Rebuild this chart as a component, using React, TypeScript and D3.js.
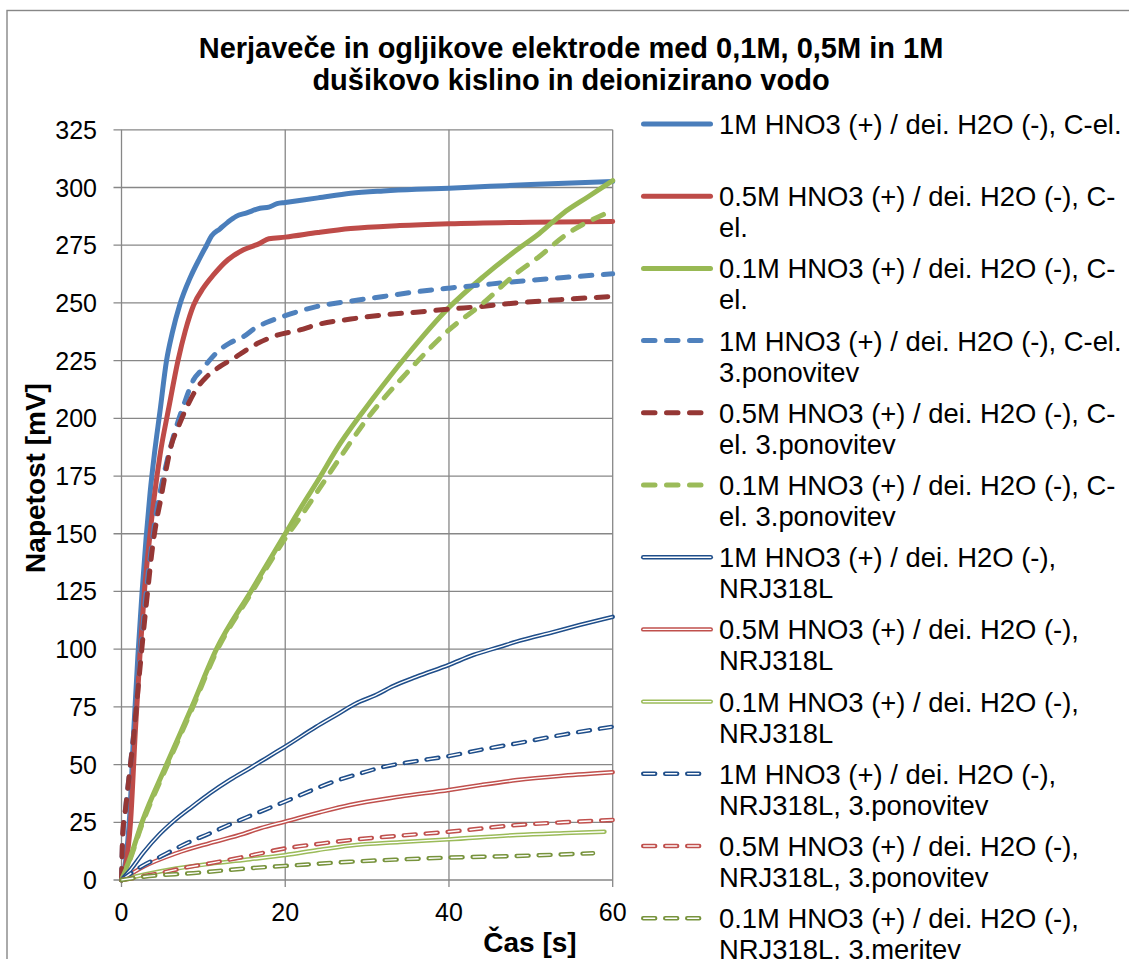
import React from "react";
import * as d3 from "d3";

const TITLE_LINES = [
  "Nerjaveče in ogljikove elektrode med 0,1M, 0,5M in 1M",
  "dušikovo kislino in deionizirano vodo",
];
const X_TITLE = "Čas [s]";
const Y_TITLE = "Napetost [mV]";
const X_TICKS = [0, 20, 40, 60];
const Y_TICKS = [0, 25, 50, 75, 100, 125, 150, 175, 200, 225, 250, 275, 300, 325];

// 1M HNO3, C-el.
const tCel1M = [0, 0.5, 1, 1.5, 2, 2.5, 3, 3.5, 4, 4.7, 5.5, 6.2, 7.1, 8.4, 9.5, 10.4, 11, 12, 13, 14, 15.3, 16.9, 18, 19, 20, 24, 28, 32, 36, 40, 45, 50, 55, 60];
const vCel1M = [0, 8, 28, 65, 97, 124, 148, 168, 184, 203, 225, 237, 249, 261, 269, 275, 279, 282, 285, 287.5, 289, 291, 291.5, 293, 293.5, 295.5, 297.5, 298.5, 299.2, 299.7, 300.5, 301.3, 302, 302.6];
// 0.5M HNO3, C-el.
const tCel05M = [0, 0.5, 1.1, 1.7, 2.3, 2.8, 3.4, 4, 4.7, 5.8, 6.9, 7.8, 8.8, 10, 11.2, 13, 14.9, 16.9, 18, 20, 24, 28, 34, 40, 50, 60];
const vCel05M = [0, 6, 25, 65, 100, 125, 147, 166, 184, 205, 225, 238, 249, 256.5, 262, 268.7, 273, 275.8, 277.8, 278.5, 280.5, 282.2, 283.5, 284.3, 285, 285.3];
// 0.1M HNO3, C-el.
const tCel01M = [0, 1, 2.5, 5.5, 8.6, 11.6, 15.8, 20, 22.2, 23.8, 26.7, 30.8, 34.8, 40, 44.2, 48.3, 51, 54, 57, 60];
const vCel01M = [0, 9, 25, 50, 75, 100, 125, 150, 163, 172, 189, 209, 227, 248, 261.4, 273, 280, 289, 296, 303];
// 1M HNO3, C-el. 3.ponovitev
const tCel1MR = [0, 0.15, 0.5, 1, 1.45, 2, 2.6, 3.2, 3.7, 4.2, 4.6, 5.2, 5.9, 6.9, 7.75, 8.8, 9.8, 10.8, 12, 13.2, 14.9, 16.5, 17.7, 20, 23.8, 28, 32, 36, 40, 44, 48.3, 54, 60];
const vCel1MR = [0, 18, 31, 47, 62, 85, 109, 131, 145, 158, 166, 176, 186.3, 198.6, 207.3, 216.7, 221, 225.3, 229.7, 232.6, 235.4, 239.5, 241.5, 244.5, 248.4, 250.8, 252.8, 254.8, 256.4, 257.8, 259.3, 261, 262.6];
// 0.5M HNO3, C-el. 3.ponovitev
const tCel05MR = [0, 0.15, 0.5, 1, 1.45, 2.05, 2.67, 3.3, 3.7, 4.3, 4.8, 5.3, 6.1, 6.9, 8, 9.2, 10.4, 12, 13.7, 15.3, 16.7, 19, 21.8, 23.8, 28, 32, 36, 40, 44, 48.3, 54, 60];
const vCel05MR = [0, 20, 31, 47, 61, 84, 107, 128.6, 141.6, 156, 165, 175, 188.5, 196, 205, 213, 218, 222.4, 226, 229.7, 232.6, 236, 238.3, 240.5, 243, 244.8, 246, 247.3, 248.5, 250, 251.5, 252.8];
// 0.1M HNO3, C-el. 3.ponovitev
const tCel01MR = [0, 1, 2.5, 5.5, 8.6, 11.6, 15.8, 20, 22, 23.8, 26.7, 29.9, 34.8, 40, 44.2, 48.3, 51, 54, 59.3];
const vCel01MR = [0, 8.5, 24, 49, 74, 99, 124, 148, 158, 167.6, 183, 199.3, 219.5, 238.3, 250, 263, 270, 278.8, 289];
// 1M HNO3, NRJ318L
const tNrj1M = [0, 1, 2.7, 4.7, 6.7, 8.7, 10.8, 13.3, 15.7, 18, 20, 23.8, 26, 28.7, 31, 33.2, 36, 40, 43, 46.2, 49, 52.3, 56, 60];
const vNrj1M = [0, 4, 12, 20, 26.5, 32, 37.6, 43.5, 48.5, 53.5, 57.8, 66.4, 71, 76.6, 80, 84, 88, 93.2, 97.5, 101, 104, 107, 110.5, 114];
// 0.5M HNO3, NRJ318L
const tNrj05M = [0, 2.7, 6.7, 10.8, 14.9, 17, 20, 24.2, 27.9, 34, 40, 44, 48.3, 54, 60];
const vNrj05M = [0, 5.8, 11.6, 16, 20, 22.5, 25.3, 29.3, 32.5, 36.1, 39, 41.2, 43.3, 45.2, 46.7];
// 0.1M HNO3, NRJ318L
const tNrj01M = [0, 3, 6.7, 10.8, 15.7, 20, 24, 27.9, 34, 40, 48.3, 54, 59];
const vNrj01M = [0, 2.5, 5, 7, 9, 10.8, 13, 14.9, 16.4, 17.6, 19.5, 20.3, 20.9];
// 1M HNO3, NRJ318L, 3.ponovitev
const tNrj1MR = [0, 2.5, 4.7, 8, 10.8, 13.5, 16, 20, 23, 25.9, 29, 32, 36, 40, 44, 48.3, 54, 60];
const vNrj1MR = [0, 6, 10, 16, 20.2, 24.5, 28.2, 34, 38.5, 42.6, 46, 49, 51.5, 53.7, 56.5, 59.2, 63, 66.4];
// 0.5M HNO3, NRJ318L, 3.ponovitev
const tNrj05MR = [0, 4.7, 8, 10.8, 16, 20, 24, 27.9, 34, 40, 48.3, 54, 60];
const vNrj05MR = [0, 3, 5.5, 7.2, 10.8, 13.7, 15.6, 17.3, 19.2, 20.9, 23.8, 25, 26];
// 0.1M HNO3, NRJ318L, 3.meritev
const tNrj01MR = [0, 2.7, 8.8, 16, 20, 27.9, 34, 40, 48.3, 57.6];
const vNrj01MR = [0, 1.4, 3, 5.2, 6.1, 7.9, 8.9, 9.7, 10.4, 11.6];

const LEGEND_LABELS = [
  ["1M HNO3 (+) / dei. H2O (-), C-el."],
  ["0.5M HNO3 (+) / dei. H2O (-), C-", "el."],
  ["0.1M HNO3 (+) / dei. H2O (-), C-", "el."],
  ["1M HNO3 (+) / dei. H2O (-), C-el.", "3.ponovitev"],
  ["0.5M HNO3 (+) / dei. H2O (-), C-", "el. 3.ponovitev"],
  ["0.1M HNO3 (+) / dei. H2O (-), C-", "el. 3.ponovitev"],
  ["1M HNO3 (+) / dei. H2O (-),", "NRJ318L"],
  ["0.5M HNO3 (+) / dei. H2O (-),", "NRJ318L"],
  ["0.1M HNO3 (+) / dei. H2O (-),", "NRJ318L"],
  ["1M HNO3 (+) / dei. H2O (-),", "NRJ318L, 3.ponovitev"],
  ["0.5M HNO3 (+) / dei. H2O (-),", "NRJ318L, 3.ponovitev"],
  ["0.1M HNO3 (+) / dei. H2O (-),", "NRJ318L, 3.meritev"],
];

type Kind = "solid" | "dashed" | "double" | "doubleDashed";
const SERIES: { t: number[]; v: number[]; color: string; kind: Kind }[] = [
  { t: tCel1M, v: vCel1M, color: "#4A7EBB", kind: "solid" },
  { t: tCel05M, v: vCel05M, color: "#BE4B48", kind: "solid" },
  { t: tCel01M, v: vCel01M, color: "#98B954", kind: "solid" },
  { t: tCel1MR, v: vCel1MR, color: "#4F81BD", kind: "dashed" },
  { t: tCel05MR, v: vCel05MR, color: "#953735", kind: "dashed" },
  { t: tCel01MR, v: vCel01MR, color: "#9BBB59", kind: "dashed" },
  { t: tNrj1M, v: vNrj1M, color: "#1F4E8A", kind: "double" },
  { t: tNrj05M, v: vNrj05M, color: "#C0504D", kind: "double" },
  { t: tNrj01M, v: vNrj01M, color: "#9BBB59", kind: "double" },
  { t: tNrj1MR, v: vNrj1MR, color: "#1F4E8A", kind: "doubleDashed" },
  { t: tNrj05MR, v: vNrj05MR, color: "#C0504D", kind: "doubleDashed" },
  { t: tNrj01MR, v: vNrj01MR, color: "#77933C", kind: "doubleDashed" },
];

const FONT = "'Liberation Sans', Arial, sans-serif";
const GRID = "#878787";

function StyledPath({ d, color, kind }: { d: string; color: string; kind: Kind }) {
  if (kind === "solid")
    return <path d={d} fill="none" stroke={color} strokeWidth={5} strokeLinejoin="round" strokeLinecap="round" />;
  if (kind === "dashed")
    return <path d={d} fill="none" stroke={color} strokeWidth={5} strokeDasharray="11.5 11.5" strokeLinejoin="round" strokeLinecap="round" />;
  if (kind === "double")
    return (
      <g>
        <path d={d} fill="none" stroke={color} strokeWidth={4.4} strokeLinejoin="round" strokeLinecap="round" />
        <path d={d} fill="none" stroke="#fff" strokeWidth={1.4} strokeLinejoin="round" />
      </g>
    );
  return (
    <g>
      <path d={d} fill="none" stroke={color} strokeWidth={4.4} strokeDasharray="12 10" strokeLinejoin="round" strokeLinecap="round" />
      <path d={d} fill="none" stroke="#fff" strokeWidth={1.4} strokeDasharray="11 11" strokeDashoffset={-0.5} strokeLinejoin="round" strokeLinecap="round" />
    </g>
  );
}

export default function App() {
  const W = 1129;
  const H = 959;
  const x = d3.scaleLinear().domain([0, 60]).range([121.5, 612.7]);
  const y = d3.scaleLinear().domain([0, 325]).range([880, 129.8]);
  const line = d3
    .line<[number, number]>()
    .x((p) => x(p[0]))
    .y((p) => y(p[1]))
    .curve(d3.curveMonotoneX);

  const legendX0 = 641;
  const legendX1 = 713;
  const legendY0 = 124;
  const legendStep = 72.2;

  return (
    <svg width={W} height={H} style={{ position: "absolute", left: 0, top: 0, background: "#fff" }} fontFamily={FONT}>
      <rect x={0} y={0} width={W} height={H} fill="#fff" />
      <rect x={7} y={10.5} width={1150} height={980} fill="none" stroke={GRID} strokeWidth={1.4} />

      {/* title */}
      {TITLE_LINES.map((t, i) => (
        <text key={i} x={571} y={58 + i * 32} textAnchor="middle" fontSize={29} fontWeight="bold" fill="#000">
          {t}
        </text>
      ))}

      {/* gridlines */}
      {Y_TICKS.map((v) => (
        <line key={"gy" + v} x1={x(0) - 8} x2={x(60)} y1={y(v)} y2={y(v)} stroke={GRID} strokeWidth={1.3} />
      ))}
      {X_TICKS.map((t) => (
        <line key={"gx" + t} x1={x(t)} x2={x(t)} y1={y(325)} y2={y(0) + 7} stroke={GRID} strokeWidth={1.3} />
      ))}

      {/* tick labels */}
      {Y_TICKS.map((v) => (
        <text key={"ly" + v} x={97} y={y(v) + 9} textAnchor="end" fontSize={25} fill="#000">
          {v}
        </text>
      ))}
      {X_TICKS.map((t) => (
        <text key={"lx" + t} x={x(t)} y={921} textAnchor="middle" fontSize={25} fill="#000">
          {t}
        </text>
      ))}

      {/* axis titles */}
      <text x={530} y={952} textAnchor="middle" fontSize={28} fontWeight="bold" fill="#000">
        {X_TITLE}
      </text>
      <text transform="translate(45,478) rotate(-90)" textAnchor="middle" fontSize={28} fontWeight="bold" fill="#000">
        {Y_TITLE}
      </text>

      {/* series */}
      {SERIES.map((s, i) => {
        const pts = s.t.map((t, k) => [t, s.v[k]] as [number, number]);
        return <StyledPath key={"s" + i} d={line(pts) || ""} color={s.color} kind={s.kind} />;
      })}

      {/* legend */}
      {SERIES.map((s, i) => {
        const ly = legendY0 + i * legendStep;
        let sample;
        if (s.kind === "solid") {
          sample = <line x1={legendX0 + 2.5} x2={legendX1 - 2.5} y1={ly} y2={ly} stroke={s.color} strokeWidth={5} strokeLinecap="round" />;
        } else if (s.kind === "dashed") {
          sample = (
            <line x1={legendX0 + 2.5} x2={legendX0 + 61} y1={ly} y2={ly} stroke={s.color} strokeWidth={5} strokeDasharray="11.5 11.5" strokeLinecap="round" />
          );
        } else if (s.kind === "double") {
          sample = (
            <g>
              <line x1={legendX0 + 2.2} x2={legendX1 - 2.2} y1={ly} y2={ly} stroke={s.color} strokeWidth={4.4} strokeLinecap="round" />
              <line x1={legendX0 + 2.2} x2={legendX1 - 2.2} y1={ly} y2={ly} stroke="#fff" strokeWidth={1.4} strokeLinecap="round" />
            </g>
          );
        } else {
          sample = (
            <g>
              <line x1={legendX0 + 2.2} x2={legendX0 + 61} y1={ly} y2={ly} stroke={s.color} strokeWidth={4.4} strokeDasharray="12 10" strokeLinecap="round" />
              <line x1={legendX0 + 2.2} x2={legendX0 + 61} y1={ly} y2={ly} stroke="#fff" strokeWidth={1.4} strokeDasharray="11 11" strokeDashoffset={-0.5} strokeLinecap="round" />
            </g>
          );
        }
        return (
          <g key={"lg" + i}>
            {sample}
            {LEGEND_LABELS[i].map((txt, j) => (
              <text key={j} x={719} y={ly + 10 + j * 31} fontSize={27.4} fill="#000">
                {txt}
              </text>
            ))}
          </g>
        );
      })}
    </svg>
  );
}
